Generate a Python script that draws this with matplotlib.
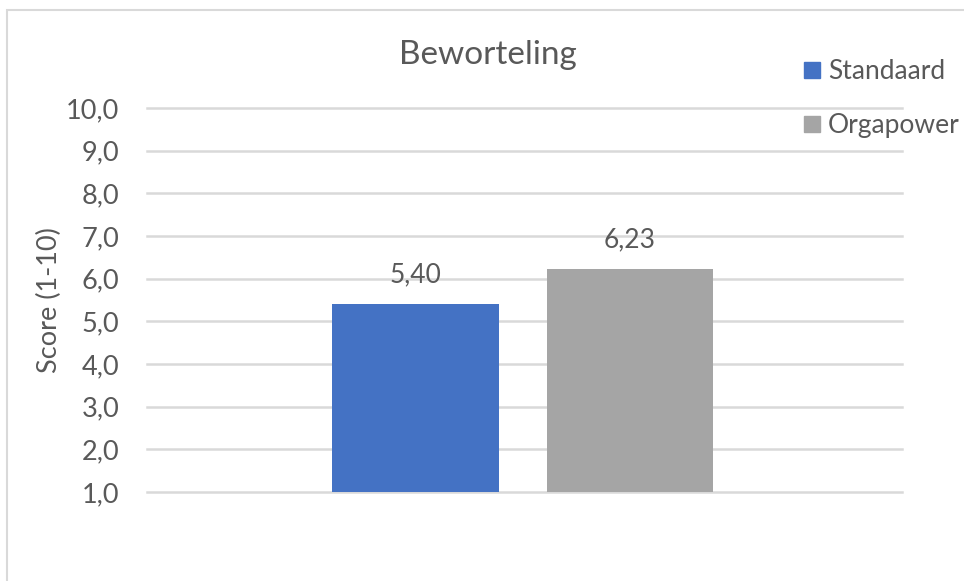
import matplotlib
matplotlib.use("Agg")
from matplotlib import pyplot as plt
from matplotlib.patches import Rectangle

# data
series = ["Standaard", "Orgapower"]
scores = [5.40, 6.23]
colors = ["#4472C4", "#A5A5A5"]
yticks = [1, 2, 3, 4, 5, 6, 7, 8, 9, 10]

plt.rcParams['font.family'] = ['Lato', 'DejaVu Sans']
txt = "#595959"
grid = "#D9D9D9"

fig = plt.figure(figsize=(9.64, 5.81), dpi=100)
ax = fig.add_axes([0.1525, 0.1532, 0.7832, 0.6609])

# figure border (right and bottom are cut off in the original)
fig.patches.append(Rectangle((7, -20), 1000, 591, transform=None,
                             fill=False, edgecolor=grid, linewidth=1.5))

pos = [0, 1]
bars = ax.bar(pos, [s - 1 for s in scores], bottom=1, width=0.778,
              color=colors, zorder=3)

for p, s in zip(pos, scores):
    ax.annotate(("%.2f" % s).replace(".", ","), (p, s), xytext=(0, 12),
                textcoords="offset points", ha="center", va="bottom",
                fontsize=19, color=txt)

ax.set_xlim(-1.252, 2.268)
ax.set_ylim(1, 10)
ax.set_yticks(yticks)
ax.set_yticklabels([("%.1f" % v).replace(".", ",") for v in yticks],
                   fontsize=19.5, color=txt)
ax.set_xticks([])
ax.tick_params(axis="y", length=0, pad=20)
for sp in ax.spines.values():
    sp.set_visible(False)
ax.yaxis.grid(True, color=grid, linewidth=1.8, zorder=0)
for gl in ax.get_ygridlines():
    gl.set_clip_on(False)
ax.set_axisbelow(True)

ax.set_ylabel("Score (1-10)", fontsize=19.5, color=txt, labelpad=3)

fig.text(0.5063, 0.905, "Beworteling", ha="center", va="center",
         fontsize=24, color=txt)

# legend
handles = [Rectangle((0, 0), 1, 1, color=c) for c in colors]
leg = fig.legend(handles, series, loc="upper left",
                 bbox_to_anchor=(0.834, 0.898), frameon=False,
                 fontsize=19, labelcolor=txt, handlelength=0.6,
                 handleheight=0.6, handletextpad=0.3, labelspacing=1.1,
                 borderpad=0, borderaxespad=0)

fig.savefig("out.png", dpi=100, facecolor="white")
